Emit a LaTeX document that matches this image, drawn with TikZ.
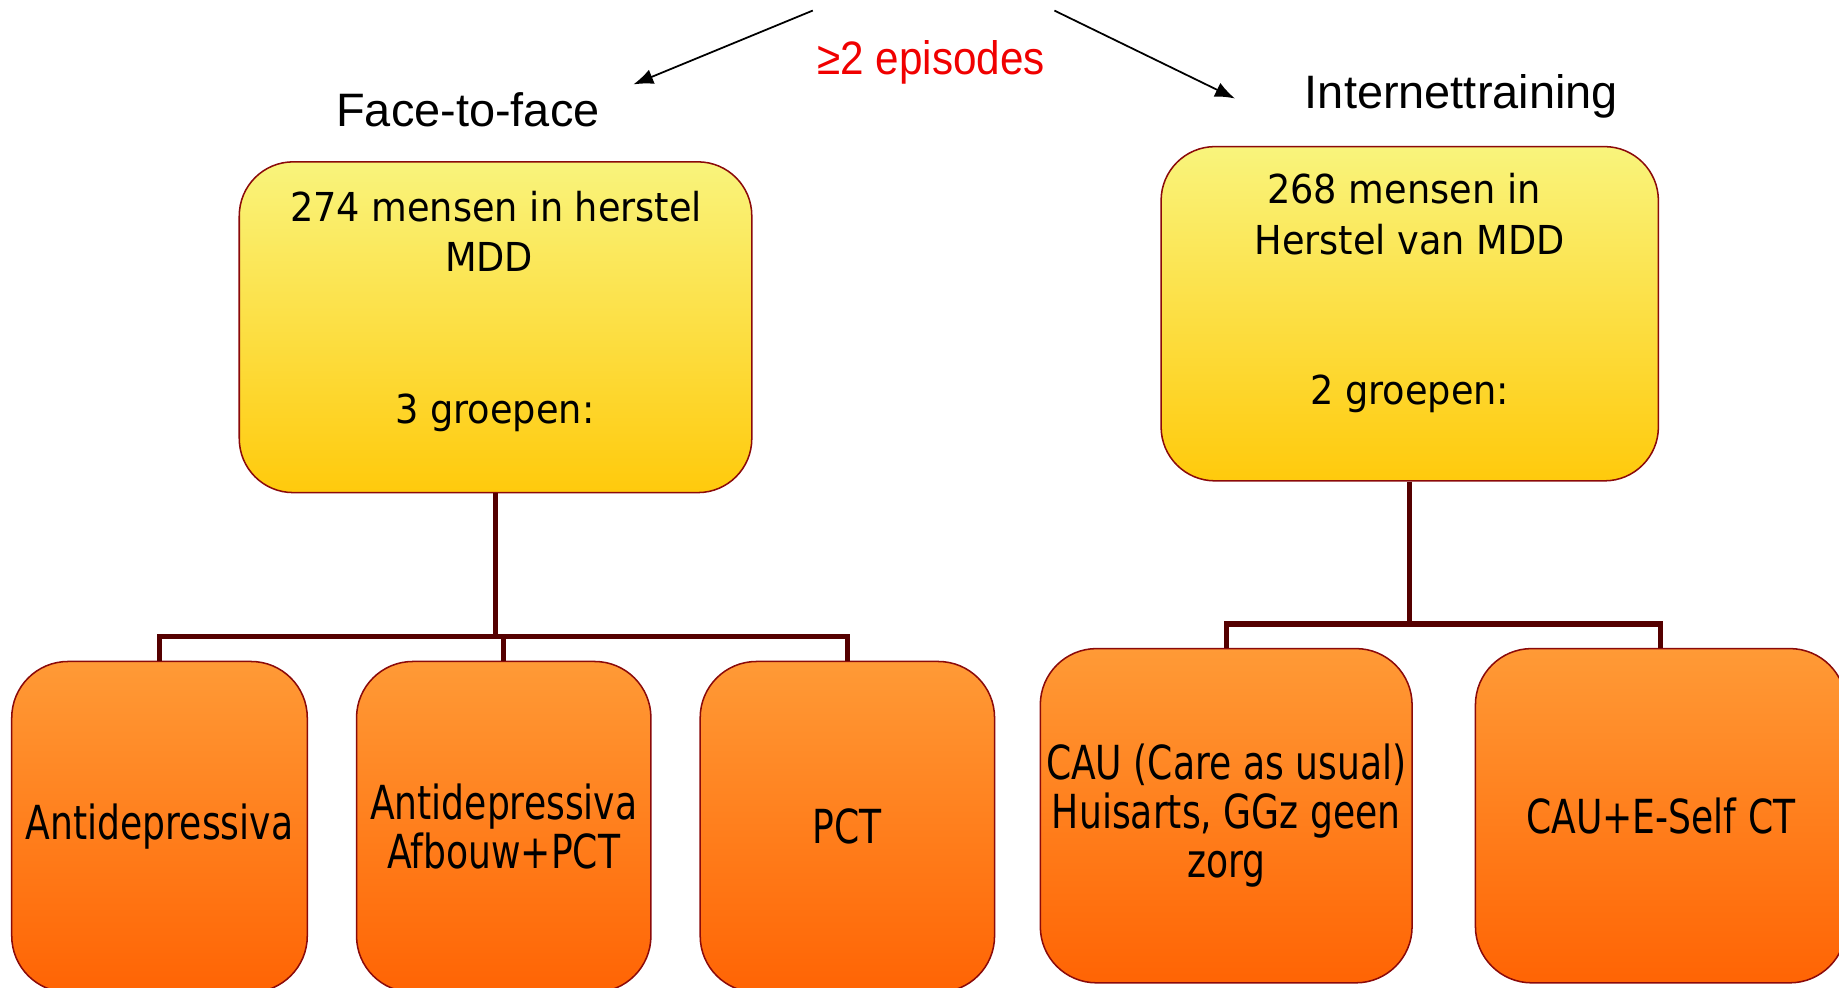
\documentclass[tikz,border=0pt]{standalone}
\usepackage{fontspec}
\setmainfont{Liberation Sans}
\newfontfamily\boxfont{DejaVu Sans}[FakeStretch=0.92]
\newfontfamily\narrowfont{DejaVu Sans}[FakeStretch=0.77]
\newfontfamily\epifont{Liberation Sans}[FakeStretch=0.9]
\usetikzlibrary{arrows.meta}
\definecolor{bordred}{HTML}{8B0A0A}
\definecolor{conn}{HTML}{550000}
\definecolor{ytop}{HTML}{F9F47C}
\definecolor{ybot}{HTML}{FFCA0C}
\definecolor{otop}{HTML}{FF9A36}
\definecolor{obot}{HTML}{FF6404}
\definecolor{epired}{HTML}{F00000}
\tikzset{
  topbox/.style={draw=bordred, line width=1.3pt, rounded corners=46pt,
    top color=ytop, bottom color=ybot, inner sep=0pt},
  botbox/.style={draw=bordred, line width=1.3pt, rounded corners=48pt,
    top color=otop, bottom color=obot, inner sep=0pt, align=center,
    font=\narrowfont\fontsize{40}{42}\selectfont},
  toptext/.style={align=center, inner sep=0pt, font=\boxfont\fontsize{34}{43}\selectfont},
  title/.style={inner sep=0pt, font=\fontsize{40}{48}\selectfont},
  tree/.style={draw=conn, line width=4.5pt},
  arr/.style={draw=black, line width=1.5pt, -{Latex[length=17pt,width=13pt]}}
}
\begin{document}
\begin{tikzpicture}[x=1pt,y=-1pt]
\useasboundingbox (0,0) rectangle (1568,842);
\clip (0,0) rectangle (1568,842);
\fill[white] (0,0) rectangle (1568,842);

% titles and arrows
\node[title] (f2f) at (399,94) {Face-to-face};
\node[title] (inet) at (1246,82) {Internettraining};
\node[inner sep=0pt, text=epired, font=\epifont\fontsize{40}{44}\selectfont] (epi) at (794,53) {≥2 episodes};
\coordinate (al0) at (693,9);
\coordinate (al1) at (540,72);
\coordinate (ar0) at (899,9);
\coordinate (ar1) at (1053,84);
\draw[arr] (al0) -- (al1);
\draw[arr] (ar0) -- (ar1);

% top boxes
\node[topbox, minimum width=437pt, minimum height=282pt] (tl) at (422.5,279) {};
\node[topbox, minimum width=424pt, minimum height=285pt] (tr) at (1202,267.5) {};
\node[toptext] (tl1) at (423,176) {274 mensen in herstel};
\node[toptext] (tl2) at (417,219) {MDD};
\node[toptext] (tl3) at (422,352) {3 groepen:};
\node[toptext] (tr1) at (1197,161) {268 mensen in};
\node[toptext] (tr2) at (1202,204) {Herstel van MDD};
\node[toptext] (tr3) at (1202,336) {2 groepen:};

% bottom boxes
\node[botbox, minimum width=252pt, minimum height=282pt] (b1) at (136,705) {Antidepressiva};
\node[botbox, minimum width=251pt, minimum height=282pt] (b2) at (429.5,705) {Antidepressiva\\Afbouw+PCT};
\node[botbox, minimum width=251pt, minimum height=282pt] (b3) at (722.5,705) {PCT};
\node[botbox, minimum width=317pt, minimum height=285pt] (b4) at (1045.5,695.5) {CAU (Care as usual)\\Huisarts, GGz geen\\zorg};
\node[botbox, minimum width=316pt, minimum height=285pt] (b5) at (1416,695.5) {CAU+E-Self CT};

% tree connectors
\coordinate (busl) at (423,543);
\coordinate (busr) at (1202,532);
\draw[tree] (tl.south) -- (tl.south |- busl);
\draw[tree] (b1.north) -- (b1.north |- busl) -- (b3.north |- busl) -- (b3.north);
\draw[tree] (b2.north) -- (b2.north |- busl);
\draw[tree] (tr.south) -- (tr.south |- busr);
\draw[tree] (b4.north) -- (b4.north |- busr) -- (b5.north |- busr) -- (b5.north);
\end{tikzpicture}
\end{document}
